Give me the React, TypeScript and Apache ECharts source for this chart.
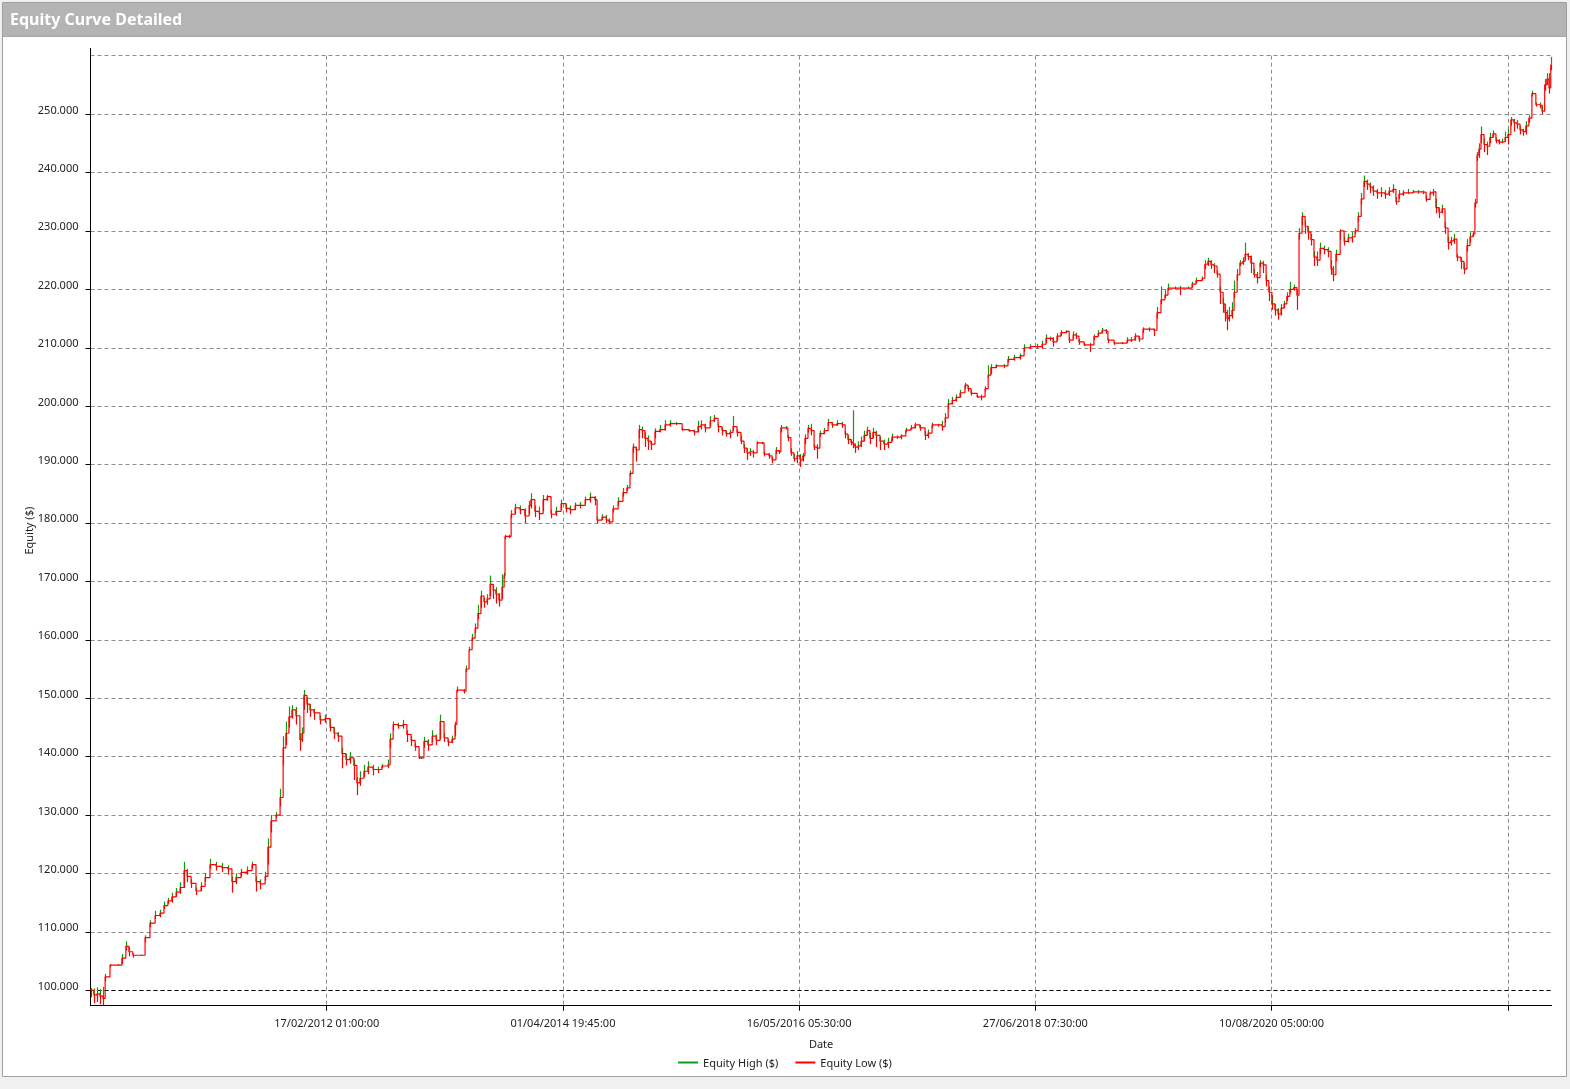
import React, { useEffect, useRef } from "react";
import * as echarts from "echarts";

// Equity in thousands of $; x = days since the first axis tick (04/01/2010).
// Each bar: [day, close, low, high]
const EQ_2010_2012: number[][] = [
  [0,100.0,98.8,100.4],[11,99.2,97.8,100.3],[21,99.4,98.0,100.5],[31,99.0,97.6,100.2],[41,98.6,97.4,100.6],[48,102.3,101.5,102.8],[64,104.3,104.0,104.5],[90,104.3,104.2,104.5],[103,105.5,104.5,106.2],[116,107.5,106.8,108.4],[126,106.6,105.8,107.4],[139,106.0,105.6,106.3],[166,106.0,105.9,106.1],[179,109.0,108.2,109.4],[195,111.5,110.8,112.0],[212,112.8,112.2,113.6],[228,113.2,112.5,113.8],[241,114.5,113.9,115.2],[254,115.3,114.8,115.8],[267,116.0,115.0,116.7],[281,116.8,116.0,117.5],[294,117.6,116.5,118.5],[307,120.5,117.5,122.0],[317,119.5,118.5,120.8],[330,118.3,117.5,119.0],[346,117.0,116.3,117.6],[363,117.8,117.0,118.5],[376,119.3,118.6,120.0],[392,121.5,120.8,122.5],[412,121.2,120.5,122.0],[431,121.0,120.2,121.8],[451,120.8,119.8,121.4],[464,118.6,116.7,119.5],[477,119.3,118.2,120.0],[494,120.2,119.5,120.8],[514,120.5,119.8,121.2],[530,121.5,120.8,122.0],[543,118.6,116.9,119.5],[557,118.2,117.3,119.0],[573,119.5,118.8,120.3],[582,124.5,121.5,126.0],[592,129.0,127.0,130.0],[609,130.0,129.5,130.5],[622,133.0,131.5,134.5],[632,141.5,138.5,143.5],[641,144.0,142.0,146.0],[651,146.8,145.0,148.6],[661,148.0,146.5,148.8],[674,147.0,145.5,148.5],[687,142.9,141.0,144.0],[694,144.0,142.5,145.0],[700,150.5,148.0,151.4],[710,149.0,147.5,150.2],[720,148.0,146.8,149.0],[733,147.5,146.3,148.2],[753,146.3,145.5,147.0],[769,146.5,145.8,147.2],[786,145.0,144.3,146.5],
];
const EQ_2012_2014: number[][] = [
  [799,144.0,143.0,145.0],[812,143.5,142.5,144.2],[825,140.5,138.0,141.5],[838,139.5,138.5,140.5],[851,139.8,138.8,140.8],[864,138.5,136.0,139.5],[874,135.5,133.4,136.5],[884,136.3,135.0,137.5],[897,137.5,136.5,138.6],[910,138.2,137.0,139.2],[927,137.8,136.8,138.6],[943,137.8,137.2,138.3],[956,138.4,138.0,138.7],[976,138.6,138.0,139.5],[983,143.0,141.5,144.0],[993,145.5,144.5,146.0],[1009,145.3,144.8,145.8],[1025,145.5,144.8,146.3],[1038,143.8,142.5,144.5],[1052,142.8,141.8,143.5],[1065,141.7,141.0,142.3],[1078,139.8,139.6,140.2],[1084,139.8,139.6,140.0],[1094,142.6,141.5,143.4],[1107,142.0,141.0,143.0],[1121,143.5,142.5,144.5],[1134,142.8,142.0,143.8],[1147,146.0,143.0,147.2],[1160,143.2,142.5,144.0],[1173,142.5,141.8,143.0],[1186,143.0,142.3,143.6],[1196,145.5,143.5,146.0],[1202,151.4,151.0,152.0],[1225,151.2,150.8,151.6],[1232,155.0,154.5,155.6],[1242,158.3,158.0,158.8],[1252,160.3,159.8,161.0],[1262,162.0,161.2,162.8],[1271,164.5,163.5,166.0],[1281,167.5,165.5,168.4],[1291,166.5,165.5,167.2],[1301,167.0,166.0,167.8],[1311,169.5,167.5,171.0],[1321,168.5,167.0,169.5],[1330,167.8,166.2,169.0],[1340,166.8,165.7,168.0],[1350,169.0,167.0,171.2],[1357,171.0,170.5,171.5],[1360,177.7,177.2,178.0],[1373,177.7,177.4,178.0],[1380,181.5,180.8,182.2],[1393,182.6,181.5,183.3],[1409,182.3,181.5,183.0],[1425,181.2,180.0,182.5],[1439,183.0,181.5,183.8],[1445,184.0,182.5,185.1],[1458,182.0,181.0,183.0],[1472,181.6,180.5,182.8],[1485,184.0,182.0,184.8],[1498,184.5,183.8,184.8],[1511,181.5,180.8,182.3],[1527,182.0,181.2,182.8],[1544,183.3,182.2,184.0],
];
const EQ_2014_2017: number[][] = [
  [1560,182.5,181.8,183.3],[1573,182.3,181.5,183.0],[1590,183.0,182.2,183.5],[1606,183.0,182.5,183.6],[1623,184.0,183.2,184.5],[1639,184.4,183.5,185.2],[1655,184.0,183.0,184.6],[1662,180.5,180.0,181.0],[1678,181.0,180.5,181.5],[1692,180.5,180.0,181.4],[1701,180.2,179.8,180.8],[1714,182.4,181.8,183.0],[1731,183.7,183.0,184.4],[1747,185.2,184.5,186.0],[1760,186.0,185.5,186.5],[1770,188.5,188.0,189.0],[1780,193.0,192.0,193.6],[1790,192.5,190.5,193.0],[1800,196.0,194.5,196.8],[1810,195.8,194.5,196.5],[1819,194.5,193.0,195.5],[1829,194.0,192.5,195.0],[1839,193.5,192.5,194.0],[1852,195.7,194.5,196.2],[1868,196.0,195.5,196.8],[1885,196.8,195.8,197.6],[1901,197.0,196.5,197.6],[1921,197.0,196.8,197.3],[1941,196.0,195.8,196.3],[1964,195.8,195.6,196.0],[1980,195.6,195.0,196.0],[1993,196.5,195.5,197.5],[2003,196.8,196.0,197.6],[2016,196.3,195.5,197.0],[2033,197.5,196.5,198.3],[2046,197.9,197.3,198.5],[2059,196.5,195.5,197.0],[2072,195.8,195.0,196.4],[2085,195.3,194.8,195.8],[2098,195.5,194.5,196.0],[2108,196.5,195.8,198.3],[2121,195.5,194.8,196.0],[2134,194.0,193.5,195.0],[2144,192.8,192.0,193.5],[2154,192.0,190.8,192.8],[2164,192.2,191.5,192.8],[2174,192.0,191.2,192.5],[2187,193.7,193.5,194.0],[2203,193.7,193.5,193.9],[2210,191.8,191.4,192.2],[2226,191.5,191.0,192.0],[2236,190.8,190.2,191.3],[2249,192.4,191.8,193.0],[2259,192.2,191.8,192.5],[2265,196.3,195.5,196.8],[2282,196.3,196.0,196.6],[2288,194.6,194.0,195.0],[2298,192.0,191.5,192.8],[2308,191.0,190.5,191.8],[2318,191.5,190.2,192.3],[2328,190.8,189.6,191.8],[2337,191.5,190.5,192.0],[2344,194.5,193.5,195.2],[2354,196.2,195.5,196.8],[2364,195.8,195.0,197.0],[2374,193.0,192.5,193.5],[2384,192.8,191.0,193.5],[2393,195.3,194.8,195.8],[2407,195.8,195.2,196.3],[2420,197.2,196.6,197.8],[2433,196.8,196.3,197.3],[2449,197.0,196.6,197.6],[2466,196.8,196.3,197.3],[2476,195.2,194.5,195.8],[2485,194.3,193.5,195.0],[2495,193.8,193.3,194.3],[2502,193.5,192.8,199.3],[2508,193.0,192.0,193.6],[2518,193.2,192.5,194.0],[2528,194.0,193.0,194.8],[2538,195.0,194.0,195.8],[2548,195.8,195.0,196.5],[2557,194.5,193.5,195.5],[2567,195.5,194.5,196.3],[2577,195.0,193.0,195.8],[2590,194.0,192.5,194.8],[2603,193.5,192.5,194.3],[2616,193.8,192.8,194.6],[2629,194.7,194.0,195.3],[2646,194.7,194.4,195.0],[2659,194.9,194.3,195.2],[2675,195.9,195.5,196.3],[2692,196.3,196.0,196.8],[2705,196.8,196.2,197.2],[2721,196.3,195.8,196.8],[2738,195.0,194.2,195.8],[2748,195.4,194.5,196.0],[2761,196.8,196.3,197.2],[2781,196.8,196.5,197.0],[2794,196.5,195.8,197.5],[2804,198.0,197.2,198.8],[2814,200.4,199.5,201.2],[2827,201.0,200.3,201.6],
];
const EQ_2017_2020: number[][] = [
  [2840,201.5,200.8,202.0],[2853,202.3,201.5,202.8],[2869,203.6,203.0,204.0],[2879,203.0,202.5,203.5],[2889,202.2,201.8,202.7],[2909,201.6,201.4,201.9],[2922,201.6,201.0,202.0],[2935,203.0,202.5,203.4],[2945,205.3,204.8,207.0],[2954,206.6,205.5,207.2],[2971,206.9,206.5,207.2],[2997,206.9,206.5,207.2],[3010,208.0,207.5,208.6],[3030,208.3,207.8,208.8],[3050,208.6,208.0,209.0],[3063,210.0,209.3,210.6],[3083,210.2,209.8,210.6],[3106,210.2,209.8,210.7],[3122,210.6,209.8,211.2],[3135,211.6,210.8,212.3],[3148,211.6,211.2,211.9],[3158,211.0,210.2,211.8],[3171,212.0,211.2,212.5],[3184,212.6,212.0,213.0],[3201,212.8,212.5,213.0],[3211,211.3,210.8,211.8],[3224,212.2,211.5,212.8],[3234,212.0,211.5,212.6],[3243,211.0,210.5,211.5],[3260,210.5,210.3,210.8],[3279,210.5,209.3,210.8],[3292,211.9,211.3,212.3],[3306,212.5,212.0,213.0],[3319,213.0,212.5,213.4],[3332,212.8,212.4,213.2],[3338,211.3,210.8,211.6],[3358,210.8,210.5,211.0],[3384,210.8,210.6,211.0],[3401,211.3,210.8,211.8],[3414,211.4,211.0,211.8],[3427,212.0,211.2,212.5],[3440,211.5,211.0,212.0],[3453,213.2,212.5,213.5],[3473,213.2,212.8,213.5],[3489,213.0,212.0,213.3],[3499,216.0,215.0,217.0],[3512,218.2,217.5,220.5],[3525,219.0,218.5,220.0],[3535,220.2,219.8,221.0],[3558,220.2,220.0,220.5],[3574,220.2,219.0,220.6],[3601,220.2,220.0,220.5],[3614,220.9,220.3,221.3],[3627,221.5,221.0,222.0],[3647,221.9,221.5,222.2],[3656,224.3,223.5,225.0],[3666,224.8,224.0,225.4],[3676,224.2,223.5,225.0],[3686,224.0,222.8,224.5],[3696,222.6,222.0,223.2],[3706,219.5,217.5,220.5],[3716,217.5,216.0,218.5],[3722,216.0,214.5,217.5],[3729,215.0,213.0,216.5],[3735,215.5,214.5,217.0],[3745,216.4,215.0,217.8],[3752,219.5,218.5,221.5],[3762,222.5,221.5,223.5],[3771,224.5,224.0,225.0],[3781,224.8,224.2,225.5],[3788,226.0,225.0,228.0],[3798,225.6,225.0,226.2],[3807,224.5,222.8,225.8],[3817,222.5,222.0,223.5],[3827,222.0,221.0,223.0],[3837,224.5,223.8,225.0],[3847,224.2,222.8,224.9],[3857,221.5,220.5,222.5],[3866,219.5,218.0,220.5],[3876,217.5,216.5,219.0],[3886,216.5,215.5,217.5],[3896,215.8,214.8,216.8],[3906,216.8,215.5,217.5],[3916,217.5,216.8,218.0],[3925,218.8,218.0,219.5],[3935,220.0,219.3,221.3],[3948,220.3,219.8,220.8],[3958,219.0,216.5,220.0],
];
const EQ_2020_2023: number[][] = [
  [3965,229.6,228.5,230.5],[3975,232.5,231.0,233.2],[3985,230.8,229.5,231.8],[3994,229.8,228.5,230.8],[4004,228.5,227.5,229.5],[4014,225.5,224.0,226.5],[4024,225.0,224.0,226.5],[4034,227.0,226.0,228.0],[4047,226.8,226.0,227.5],[4060,226.5,225.5,227.2],[4070,223.5,222.5,225.0],[4077,222.5,221.4,224.0],[4086,226.0,224.8,226.8],[4100,230.0,228.5,230.3],[4113,228.2,227.5,229.0],[4126,228.8,228.0,229.5],[4139,229.0,228.0,229.8],[4149,230.0,229.5,230.5],[4159,232.5,231.5,233.2],[4169,235.5,234.5,236.5],[4178,238.5,237.5,239.5],[4188,238.0,237.0,238.8],[4198,237.5,236.5,238.3],[4208,236.8,236.0,237.8],[4221,236.5,235.5,237.2],[4234,236.5,235.8,237.5],[4247,236.3,235.5,237.0],[4260,236.8,236.0,237.5],[4273,237.1,236.5,238.0],[4283,235.0,234.5,235.8],[4293,236.3,235.5,237.0],[4306,236.5,236.0,237.0],[4322,236.5,236.3,237.2],[4339,236.7,236.5,237.0],[4355,236.7,236.4,237.0],[4372,236.6,236.3,236.9],[4382,235.4,235.0,236.0],[4395,236.5,236.2,236.8],[4405,236.7,236.0,237.2],[4414,234.0,233.0,235.5],[4424,233.2,232.2,234.0],[4434,233.8,233.0,234.5],[4444,230.5,229.5,231.5],[4454,228.0,226.8,229.0],[4463,228.3,227.5,229.0],[4473,228.6,227.8,229.5],[4483,225.5,224.8,226.0],[4496,224.8,223.5,225.5],[4506,223.5,222.6,224.5],[4516,227.5,226.5,228.6],[4526,229.0,228.0,229.8],[4536,229.5,229.0,230.0],[4542,234.8,234.0,235.5],[4549,243.0,242.0,243.5],[4555,244.0,242.5,245.0],[4562,246.5,245.0,247.9],[4572,244.8,243.5,245.8],[4582,244.5,243.0,245.3],[4591,246.0,245.0,246.8],[4601,246.6,246.0,247.2],[4611,245.5,245.0,246.0],[4621,245.2,244.8,245.7],[4631,245.3,245.0,245.8],[4641,246.0,245.3,247.0],[4650,246.5,244.8,247.5],[4660,249.0,248.0,249.5],[4670,248.5,247.0,249.2],[4680,248.3,247.5,249.0],[4690,247.3,246.5,248.0],[4700,247.0,246.3,247.5],[4709,248.0,246.5,248.8],[4719,249.3,248.5,249.8],[4729,253.5,253.0,254.0],[4742,251.6,251.3,252.0],[4755,251.5,251.0,252.0],[4762,250.5,250.0,251.5],[4771,255.0,254.0,256.0],[4778,256.0,255.0,257.0],[4785,254.5,253.5,257.0],[4791,258.5,257.5,259.8],
];

const X_TICK_LABELS = [
  "",
  "17/02/2012 01:00:00",
  "01/04/2014 19:45:00",
  "16/05/2016 05:30:00",
  "27/06/2018 07:30:00",
  "10/08/2020 05:00:00",
  "",
];
const X_TICK_STEP = 775;
const X_MAX = 4794;
const Y_MIN = 97.36;
const Y_MAX = 260;
const Y_STEP = 10;
const START_CAPITAL = 100;

const TITLE = "Equity Curve Detailed";
const SERIES_HIGH = "Equity High ($)";
const SERIES_LOW = "Equity Low ($)";

export default function App() {
  const ref = useRef<HTMLDivElement>(null);

  useEffect(() => {
    if (!ref.current) return;
    const chart = echarts.init(ref.current, null, { renderer: "svg" });
    const bars = [...EQ_2010_2012, ...EQ_2012_2014, ...EQ_2014_2017, ...EQ_2017_2020, ...EQ_2020_2023];
    const font = "'Noto Sans', 'Open Sans', sans-serif";
    const red = "#ff0000";
    const green = "#109a10";
    const gridLine = { color: "#8c8c8c", width: 1, type: [4, 3] as any };

    const vbar = (color: string) => (params: any, api: any) => {
      const x = api.value(0);
      const a = api.coord([x, api.value(1)]);
      const b = api.coord([x, api.value(2)]);
      const px = Math.round(a[0]) + 0.5;
      return {
        type: "line",
        shape: { x1: px, y1: a[1], x2: px, y2: b[1] },
        style: { stroke: color, lineWidth: 1.2 },
      };
    };

    chart.setOption({
      animation: false,
      textStyle: { fontFamily: font },
      graphic: [
        { type: "rect", z: -10, silent: true, shape: { x: 0, y: 0, width: 1570, height: 1089 }, style: { fill: "#f0f0f0" } },
        { type: "rect", z: -9, silent: true, shape: { x: 2.5, y: 2.5, width: 1564, height: 1074 }, style: { fill: "#ffffff", stroke: "#a0a0a0", lineWidth: 1 } },
        { type: "rect", z: -8, silent: true, shape: { x: 3, y: 3, width: 1563, height: 33 }, style: { fill: "#b4b4b4" } },
        { type: "line", z: -8, silent: true, shape: { x1: 3, y1: 36.5, x2: 1566, y2: 36.5 }, style: { stroke: "#a6a6a6", lineWidth: 1 } },
        { type: "line", z: -7, silent: true, shape: { x1: 90.5, y1: 48, x2: 90.5, y2: 56 }, style: { stroke: "#000", lineWidth: 1 } },
      ],
      title: {
        text: TITLE,
        left: 10,
        top: 11,
        padding: 0,
        textStyle: { color: "#ffffff", fontSize: 16, fontWeight: "bold", fontFamily: font },
      },
      legend: {
        top: 1052,
        left: "center",
        icon: "rect",
        itemWidth: 20,
        itemHeight: 2,
        itemGap: 17,
        textStyle: { fontSize: 11, color: "#222", fontFamily: font },
        data: [
          { name: SERIES_HIGH, itemStyle: { color: green } },
          { name: SERIES_LOW, itemStyle: { color: red } },
        ],
      },
      grid: { left: 90.5, right: 18.3, top: 55.7, bottom: 83.3, containLabel: false, outerBoundsMode: "none" },
      xAxis: {
        type: "value",
        min: 0,
        max: X_MAX,
        interval: X_TICK_STEP,
        name: "Date",
        nameLocation: "middle",
        nameGap: 32,
        nameMoveOverlap: false,
        nameTextStyle: { color: "#222", fontSize: 11, fontFamily: font },
        axisLine: { show: true, lineStyle: { color: "#000", width: 1 } },
        axisTick: { show: true, length: 5, lineStyle: { color: "#000" } },
        axisLabel: {
          color: "#222",
          fontSize: 11,
          margin: 11,
          showMinLabel: false,
          showMaxLabel: false,
          formatter: (v: number) => X_TICK_LABELS[Math.round(v / X_TICK_STEP)] ?? "",
        },
        splitLine: { show: true, showMinLine: false, showMaxLine: false, lineStyle: gridLine },
      },
      yAxis: {
        type: "value",
        min: Y_MIN,
        max: Y_MAX,
        splitNumber: 16,
        minInterval: Y_STEP,
        maxInterval: Y_STEP,
        name: "Equity ($)",
        nameLocation: "middle",
        nameGap: 57,
        nameMoveOverlap: false,
        nameRotate: 90,
        nameTextStyle: { color: "#222", fontSize: 11, fontFamily: font },
        axisLine: { show: true, lineStyle: { color: "#000", width: 1 } },
        axisTick: { show: true, length: 5, lineStyle: { color: "#000" } },
        axisLabel: {
          color: "#222",
          fontSize: 11,
          margin: 12,
          showMinLabel: false,
          showMaxLabel: false,
          verticalAlign: "bottom",
          lineHeight: 10,
          formatter: (v: number) => `${Math.round(v)}.000`,
        },
        splitLine: { show: true, showMinLine: false, lineStyle: gridLine },
      },
      series: [
        {
          name: SERIES_HIGH,
          type: "custom",
          itemStyle: { color: green },
          encode: { x: 0, y: [1, 2] },
          renderItem: vbar(green),
          data: bars.map((b) => [b[0], b[1], b[3]]),
          z: 3,
        },
        {
          name: SERIES_LOW,
          type: "custom",
          itemStyle: { color: red },
          encode: { x: 0, y: [1, 2] },
          renderItem: vbar(red),
          data: bars.map((b) => [b[0], b[2], b[1]]),
          z: 3,
        },
        {
          name: SERIES_LOW,
          type: "line",
          step: "end",
          showSymbol: false,
          symbol: "none",
          itemStyle: { color: red },
          lineStyle: { color: red, width: 1.2 },
          data: bars.map((b) => [b[0], b[1]]),
          z: 4,
          markLine: {
            silent: true,
            symbol: "none",
            label: { show: false },
            lineStyle: { color: "#000", width: 1, type: [4, 3] as any },
            data: [{ yAxis: START_CAPITAL }],
            z: 2,
          },
        },
      ],
    });

    return () => chart.dispose();
  }, []);

  return <div ref={ref} style={{ position: "fixed", left: 0, top: 0, width: 1570, height: 1089 }} />;
}
